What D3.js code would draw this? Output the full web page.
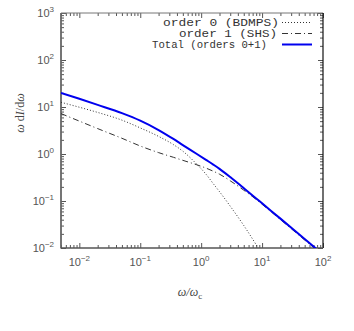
<!DOCTYPE html>
<html><head><meta charset="utf-8">
<script src="https://cdn.jsdelivr.net/npm/d3@7"></script>
<style>body{margin:0;background:#fff}</style>
</head><body><svg id="c" width="354" height="331"></svg>
<script>
const omega  = [0.005,0.01,0.02,0.05,0.1,0.2,0.35,0.5,0.85,1.2,1.6,2,3,5,8,10,20,50,80,100];
const order0 = [12.6,9.89,7.67,5.25,3.59,2.37,1.585,1.148,0.603,0.372,0.229,0.158,0.0776,0.0302,0.01175,0.00741,0.00178,null,null,null];
const order1 = [7.24,5.01,3.47,2.16,1.48,1.07,0.851,0.733,0.589,0.501,0.427,0.372,0.269,0.170,0.108,0.0851,0.0403,0.0148,0.0089,0.0070];
const total  = [19.9,14.96,11.1,7.41,5.13,3.24,2.09,1.55,1.0,0.75,0.589,0.484,0.324,0.188,0.1135,0.0891,0.0422,0.0155,0.00933,0.00733];
const seriesNames = ["order 0 (BDMPS)","order 1 (SHS)","Total (orders 0+1)"];
const xTickExp = [-2,-1,0,1,2];
const yTickExp = [-2,-1,0,1,2,3];

const svg = d3.select("#c");
const L=61,R=323,T=13,B=248;
const x = d3.scaleLog().domain([0.005,100]).range([L,R]);
const y = d3.scaleLog().domain([0.01,1000]).range([B,T]);

svg.append("defs").append("clipPath").attr("id","pc").append("rect")
  .attr("x",L).attr("y",T).attr("width",R-L).attr("height",B-T);

function minors(lo,hi){const out=[];for(let e=Math.floor(Math.log10(lo));e<=Math.ceil(Math.log10(hi));e++){for(let m=2;m<=9;m++){const v=m*Math.pow(10,e);if(v>=lo&&v<=hi)out.push(v);}}return out;}
const xMin = minors(0.005,100), yMin = minors(0.01,1000);
const xMaj = xTickExp.map(e=>Math.pow(10,e)), yMaj = yTickExp.map(e=>Math.pow(10,e));

function drawAxis(gen, tr, vals, size){
  const g = svg.append("g").attr("transform",tr)
    .call(gen.tickValues(vals).tickSize(size).tickFormat(""));
  g.select(".domain").remove();
  g.selectAll(".tick line").attr("stroke","#555").attr("stroke-width",1);
}
drawAxis(d3.axisBottom(x), `translate(0,${B})`, xMaj, -5);
drawAxis(d3.axisBottom(x), `translate(0,${B})`, xMin, -3);
drawAxis(d3.axisTop(x), `translate(0,${T})`, xMaj, -5);
drawAxis(d3.axisTop(x), `translate(0,${T})`, xMin, -3);
drawAxis(d3.axisLeft(y), `translate(${L},0)`, yMaj, -5);
drawAxis(d3.axisLeft(y), `translate(${L},0)`, yMin, -3);
drawAxis(d3.axisRight(y), `translate(${R},0)`, yMaj, -5);
drawAxis(d3.axisRight(y), `translate(${R},0)`, yMin, -3);

svg.append("line").attr("x1",L).attr("x2",R).attr("y1",T).attr("y2",T).attr("stroke","#777").attr("stroke-width",1);
svg.append("line").attr("x1",R).attr("x2",R).attr("y1",T).attr("y2",B).attr("stroke","#111").attr("stroke-width",1.2);
svg.append("line").attr("x1",L).attr("x2",L).attr("y1",T).attr("y2",B+0.5).attr("stroke","#666").attr("stroke-width",1.8);
svg.append("line").attr("x1",L).attr("x2",R).attr("y1",B).attr("y2",B).attr("stroke","#555").attr("stroke-width",1.6);

const tf = "Liberation Sans, DejaVu Sans, sans-serif";
xTickExp.forEach(e=>{
  const t = svg.append("text").attr("x",x(Math.pow(10,e))).attr("y",266)
    .attr("text-anchor","middle").attr("font-family",tf).attr("font-size",11).attr("fill","#555");
  t.append("tspan").text("10");
  t.append("tspan").attr("dy",-5).attr("font-size",8).text(String(e).replace("-","−"));
});
yTickExp.forEach(e=>{
  const t = svg.append("text").attr("x",54).attr("y",y(Math.pow(10,e))+4)
    .attr("text-anchor","end").attr("font-family",tf).attr("font-size",11).attr("fill","#555");
  t.append("tspan").text("10");
  t.append("tspan").attr("dy",-5).attr("font-size",8).text(String(e).replace("-","−"));
});

const sf = "Liberation Serif, DejaVu Serif, serif";
const yl = svg.append("text").attr("transform","translate(24,113) rotate(-90)")
  .attr("text-anchor","middle").attr("font-family",sf).attr("font-size",12).attr("fill","#444");
yl.append("tspan").attr("font-style","italic").text("ω");
yl.append("tspan").text(" d");
yl.append("tspan").attr("font-style","italic").text("I");
yl.append("tspan").text("/d");
yl.append("tspan").attr("font-style","italic").text("ω");
const xl = svg.append("text").attr("x",190).attr("y",296)
  .attr("text-anchor","middle").attr("font-family",sf).attr("font-size",12).attr("fill","#444");
xl.append("tspan").attr("font-style","italic").text("ω/ω");
xl.append("tspan").attr("dy",3).attr("font-size",9).text("c");

const styles = [
  {color:"#333", width:1, dash:"1,2"},
  {color:"#333", width:1, dash:"6,3,1,3"},
  {color:"#0000ee", width:2, dash:null}
];
const allSeries = [order0, order1, total];
const line = d3.line().defined(d=>d[1]!=null).x(d=>x(d[0])).y(d=>y(d[1])).curve(d3.curveMonotoneX);
const plot = svg.append("g").attr("clip-path","url(#pc)");
allSeries.forEach((s,i)=>{
  plot.append("path").datum(omega.map((w,j)=>[w,s[j]]))
    .attr("d",line).attr("fill","none").attr("stroke",styles[i].color)
    .attr("stroke-width",styles[i].width).attr("stroke-dasharray",styles[i].dash);
});

const mf = "Liberation Mono, DejaVu Sans Mono, monospace";
const legStart=[163,179,152], legEnd=[279,277,267], legY=[26,37,48];
seriesNames.forEach((n,i)=>{
  svg.append("text").attr("x",legStart[i]).attr("y",legY[i])
    .attr("font-family",mf).attr("font-size",10).attr("fill","#333")
    .attr("textLength",legEnd[i]-legStart[i]).attr("lengthAdjust","spacingAndGlyphs").text(n);
  svg.append("line").attr("x1",282).attr("x2",312).attr("y1",legY[i]-3.5).attr("y2",legY[i]-3.5)
    .attr("stroke",styles[i].color).attr("stroke-width",styles[i].width).attr("stroke-dasharray",styles[i].dash);
});
</script></body></html>
